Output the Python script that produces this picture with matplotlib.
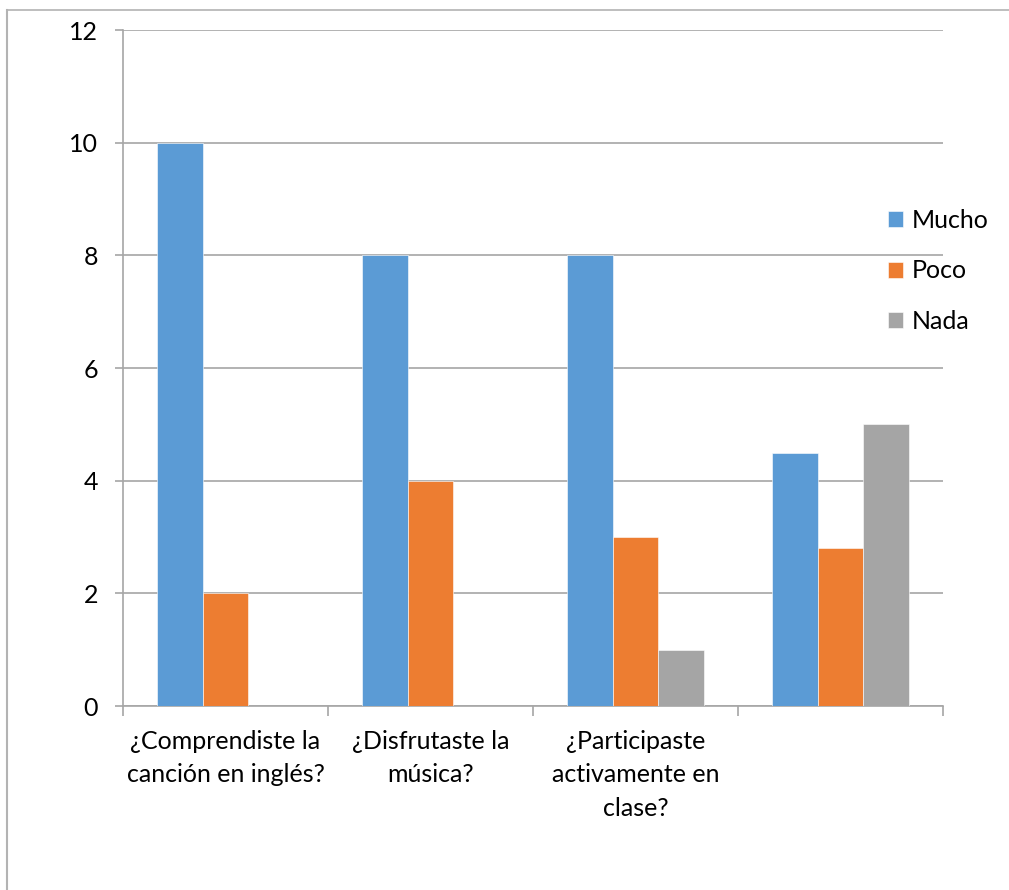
import numpy as np
import matplotlib
matplotlib.use('Agg')
import matplotlib.pyplot as plt
from matplotlib.lines import Line2D

plt.rcParams['font.family'] = ['Lato', 'DejaVu Sans']

categories = [
    '¿Comprendiste la\ncanción en inglés?',
    '¿Disfrutaste la\nmúsica?',
    '¿Participaste\nactivamente en\nclase?',
    '',
]
series_names = ['Mucho', 'Poco', 'Nada']
mucho = [10, 8, 8, 4.5]
poco = [2, 4, 3, 2.8]
nada = [0, 0, 1, 5]
colors = ['#5B9BD5', '#ED7D31', '#A5A5A5']

W, H = 1009, 890
fig = plt.figure(figsize=(W / 100, H / 100), dpi=100)
ax = fig.add_axes([123 / W, (H - 706) / H, 820 / W, 676 / H])

# outer chart frame
frame_col = '#b3b3b3'
fig.add_artist(Line2D([7 / W, 1.0], [1 - 10 / H, 1 - 10 / H], transform=fig.transFigure,
                      color=frame_col, lw=1.2))
fig.add_artist(Line2D([7 / W, 7 / W], [0, 1 - 10 / H], transform=fig.transFigure,
                      color=frame_col, lw=1.5))

x = np.arange(len(categories))
bw = 1 / 4.5
for i, (vals, name) in enumerate(zip([mucho, poco, nada], series_names)):
    ax.bar(x + (i - 1) * bw, vals, width=bw, color=colors[i], label=name,
           edgecolor='white', linewidth=0.4, zorder=3)

ax.set_xlim(-0.5, len(categories) - 0.5)
ax.set_ylim(0, 12)
ax.set_yticks(np.arange(0, 13, 2))
ax.yaxis.grid(True, color='#a6a6a6', linewidth=1.2, zorder=0)
ax.set_axisbelow(True)

ax.set_xticks(np.arange(-0.5, len(categories)), minor=False)
ax.set_xticklabels([])
ax.set_xticks(x, minor=True)
ax.set_xticklabels(categories, minor=True, fontsize=18, linespacing=1.55)
ax.tick_params(axis='x', which='minor', length=0, pad=17)
ax.tick_params(axis='x', which='major', length=7, color='#a6a6a6', width=1.2)
ax.tick_params(axis='y', length=6, color='#a6a6a6', width=1.2, labelsize=18, pad=12)

for s in ['top', 'right']:
    ax.spines[s].set_visible(False)
for s in ['left', 'bottom']:
    ax.spines[s].set_color('#a6a6a6')
    ax.spines[s].set_linewidth(1.2)

ax.legend(loc='upper left', bbox_to_anchor=(888 / W, 1 - 209 / H), bbox_transform=fig.transFigure,
          frameon=False, fontsize=18, handlelength=0.6, handleheight=0.6,
          handletextpad=0.35, labelspacing=1.1, borderaxespad=0, borderpad=0)

fig.savefig('out.png', dpi=100, facecolor='white')
